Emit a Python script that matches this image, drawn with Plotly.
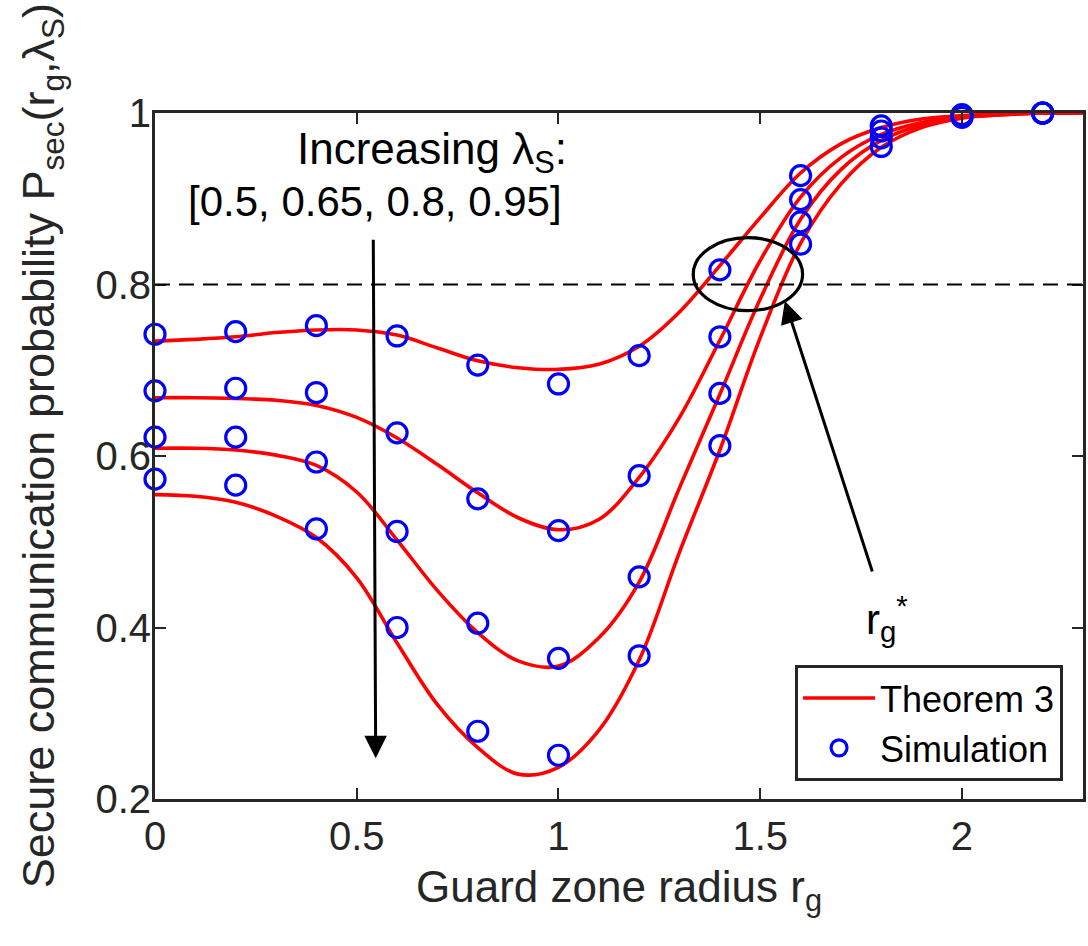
import plotly.graph_objects as go

# ---------------- data ----------------
THEORY_X = [0.0, 0.1, 0.2, 0.3, 0.4, 0.5, 0.6, 0.7, 0.8, 0.9, 1.0, 1.1,
            1.2, 1.3, 1.4, 1.5, 1.6, 1.7, 1.8, 1.9, 2.0, 2.1, 2.2, 2.3]
THEORY_L050 = [0.734, 0.736, 0.739, 0.744, 0.747, 0.747, 0.741, 0.726, 0.711, 0.703, 0.701, 0.707,
               0.728, 0.768, 0.822, 0.878, 0.930, 0.964, 0.983, 0.993, 0.997, 0.999, 1.0, 1.0]
THEORY_L065 = [0.668, 0.668, 0.667, 0.665, 0.659, 0.645, 0.621, 0.590, 0.557, 0.528, 0.514, 0.526,
               0.575, 0.645, 0.735, 0.828, 0.902, 0.948, 0.975, 0.989, 0.996, 0.999, 1.0, 1.0]
THEORY_L080 = [0.609, 0.609, 0.607, 0.601, 0.589, 0.558, 0.502, 0.443, 0.394, 0.361, 0.355, 0.388,
               0.453, 0.563, 0.672, 0.783, 0.876, 0.934, 0.968, 0.986, 0.995, 0.998, 1.0, 1.0]
THEORY_L095 = [0.555, 0.553, 0.546, 0.530, 0.505, 0.458, 0.382, 0.310, 0.260, 0.229, 0.237, 0.280,
               0.362, 0.488, 0.607, 0.738, 0.848, 0.917, 0.960, 0.983, 0.994, 0.998, 1.0, 1.0]

SIM_X = [0.0, 0.2, 0.4, 0.6, 0.8, 1.0, 1.2, 1.4, 1.6, 1.8, 2.0, 2.2]
SIM_L050 = [0.742, 0.745, 0.752, 0.740, 0.706, 0.684, 0.717, 0.817, 0.927, 0.985, 0.998, 1.0]
SIM_L065 = [0.676, 0.679, 0.674, 0.627, 0.550, 0.513, 0.577, 0.739, 0.899, 0.979, 0.997, 1.0]
SIM_L080 = [0.622, 0.622, 0.593, 0.512, 0.405, 0.364, 0.459, 0.673, 0.873, 0.971, 0.996, 1.0]
SIM_L095 = [0.573, 0.566, 0.515, 0.400, 0.279, 0.251, 0.367, 0.612, 0.847, 0.961, 0.995, 1.0]

X_TICKS = [0, 0.5, 1, 1.5, 2]
X_TICK_TEXT = ["0", "0.5", "1", "1.5", "2"]
Y_TICKS = [0.2, 0.4, 0.6, 0.8, 1.0]
Y_TICK_TEXT = ["0.2", "0.4", "0.6", "0.8", "1"]
X_RANGE = [0, 2.3]
Y_RANGE = [0.2, 1.0]
TARGET_LEVEL = 0.8

# annotation geometry (data coordinates)
ARROW1_TAIL = (0.541, 0.854)
ARROW1_HEAD = (0.547, 0.2475)
ARROW2_TAIL = (1.779, 0.4636)
ARROW2_HEAD = (1.561, 0.7808)
ELLIPSE_X = (1.334, 1.605)
ELLIPSE_Y = (0.7695, 0.8546)

# ---------------- styling ----------------
FONT = "Liberation Sans, Arial, Helvetica, sans-serif"
AXC = "#262626"
RED = "#FF0000"
BLUE = "#0000FF"

fig = go.Figure()

theory = [THEORY_L050, THEORY_L065, THEORY_L080, THEORY_L095]
sims = [SIM_L050, SIM_L065, SIM_L080, SIM_L095]

for i, ys in enumerate(theory):
    fig.add_trace(go.Scatter(
        x=THEORY_X, y=ys, mode="lines",
        line=dict(color=RED, width=3.6, shape="spline", smoothing=1.0),
        name="Theorem 3", showlegend=(i == 0), legendrank=1,
    ))
for i, ys in enumerate(sims):
    fig.add_trace(go.Scatter(
        x=SIM_X, y=ys, mode="markers",
        marker=dict(symbol="circle-open", size=20, color=BLUE, line=dict(width=3.2, color=BLUE)),
        name="Simulation", showlegend=(i == 0), legendrank=2, cliponaxis=False,
    ))

axis_common = dict(
    showline=True, linewidth=3, linecolor=AXC, mirror="ticks",
    ticks="inside", ticklen=11, tickwidth=2.2, tickcolor=AXC,
    showgrid=False, zeroline=False,
    tickfont=dict(family=FONT, size=40, color=AXC),
)

fig.update_layout(
    width=1088, height=946,
    margin=dict(l=155, r=2, t=113, b=147),
    paper_bgcolor="white", plot_bgcolor="white",
    xaxis=dict(range=X_RANGE, tickvals=X_TICKS, ticktext=X_TICK_TEXT, **axis_common),
    yaxis=dict(range=Y_RANGE, tickvals=Y_TICKS, ticktext=Y_TICK_TEXT,
               ticklabelstandoff=-7, **axis_common),
    showlegend=True,
    legend=dict(
        x=0.9785, y=0.026, xanchor="right", yanchor="bottom",
        bgcolor="white", bordercolor=AXC, borderwidth=3,
        font=dict(family=FONT, size=36, color="black"),
        itemwidth=72, tracegroupgap=0,
    ),
    font=dict(family=FONT),
)

# dashed target line
fig.add_shape(type="line", xref="paper", yref="y", x0=0, x1=1, y0=TARGET_LEVEL, y1=TARGET_LEVEL,
              line=dict(color="black", width=2, dash="15px,9px"))
# ellipse
fig.add_shape(type="circle", xref="x", yref="y",
              x0=ELLIPSE_X[0], x1=ELLIPSE_X[1], y0=ELLIPSE_Y[0], y1=ELLIPSE_Y[1],
              line=dict(color="black", width=3.2))

# arrows
for tail, head in [(ARROW1_TAIL, ARROW1_HEAD), (ARROW2_TAIL, ARROW2_HEAD)]:
    fig.add_annotation(x=head[0], y=head[1], ax=tail[0], ay=tail[1],
                       xref="x", yref="y", axref="x", ayref="y",
                       text="", showarrow=True, arrowhead=2, arrowsize=1.5,
                       arrowwidth=3, arrowcolor="black", standoff=0, startstandoff=0)

# annotation texts
fig.add_annotation(x=0.687, y=0.955, xref="x", yref="y", xanchor="center", yanchor="middle",
                   text="Increasing λ<sub>S</sub>:", showarrow=False,
                   font=dict(family=FONT, size=44, color="black"))
fig.add_annotation(x=0.545, y=0.897, xref="x", yref="y", xanchor="center", yanchor="middle",
                   text="[0.5, 0.65, 0.8, 0.95]", showarrow=False,
                   font=dict(family=FONT, size=42, color="black"))

fig.add_annotation(x=1.757, y=0.41, xref="x", yref="y", xanchor="left", yanchor="middle",
                   text="r<sub>g</sub><sup>*</sup>", showarrow=False,
                   font=dict(family=FONT, size=42, color="black"))

# axis titles
fig.add_annotation(x=0.5, y=-0.089, xref="paper", yref="paper", xanchor="center", yanchor="top",
                   text="Guard zone radius r<sub>g</sub>", showarrow=False,
                   font=dict(family=FONT, size=44, color=AXC))
fig.add_annotation(x=-0.1214, y=0.5146, xref="paper", yref="paper", xanchor="center", yanchor="middle",
                   textangle=-90,
                   text="Secure communication probability P<sub>sec</sub>(r<sub>g</sub>,λ<sub>S</sub>)",
                   showarrow=False, font=dict(family=FONT, size=45, color=AXC))

fig.write_html("out.html")
